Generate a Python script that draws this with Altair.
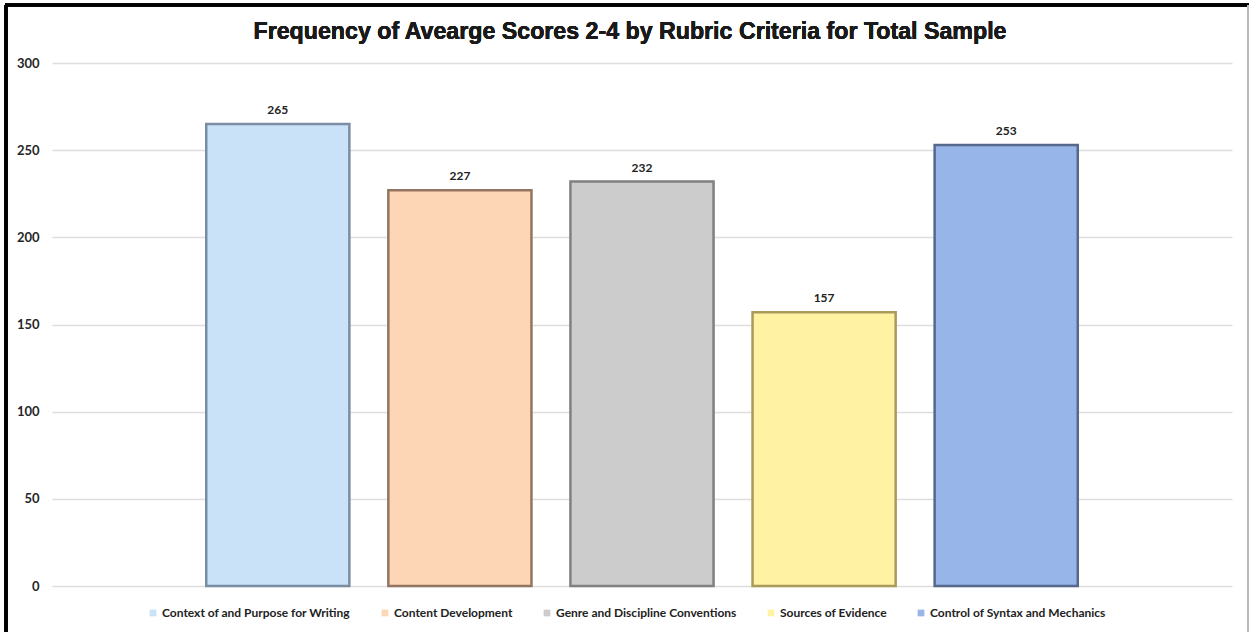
import altair as alt
import pandas as pd

categories = [
    "Context of and Purpose for Writing",
    "Content Development",
    "Genre and Discipline Conventions",
    "Sources of Evidence",
    "Control of Syntax and Mechanics",
]
values = [265, 227, 232, 157, 253]
fill_colors = ["#C9E2F8", "#FDD6B6", "#CCCCCC", "#FFF2A2", "#97B5E9"]
edge_colors = ["#7A8DA2", "#947562", "#808080", "#A89B5C", "#56698C"]
title_text = "Frequency of Avearge Scores 2-4 by Rubric Criteria for Total Sample"

df = pd.DataFrame({"category": categories, "value": values})

FONT = "Lato"

x_enc = alt.X("category:N", sort=categories, axis=None,
              scale=alt.Scale(paddingInner=0.214, paddingOuter=0.847))
y_enc = alt.Y("value:Q", scale=alt.Scale(domain=[0, 300], nice=False),
              axis=alt.Axis(values=[0, 50, 100, 150, 200, 250, 300], title=None,
                            domain=False, ticks=False, labelPadding=13,
                            labelFont=FONT, labelFontWeight="bold", labelFontSize=13,
                            labelColor="#262626", gridColor="#DDDDDD", gridWidth=1.5))

bars = alt.Chart(df).mark_bar(strokeWidth=2.5).encode(
    x=x_enc,
    y=y_enc,
    color=alt.Color("category:N", sort=categories,
                    scale=alt.Scale(domain=categories, range=fill_colors),
                    legend=alt.Legend(title=None, orient="none", legendX=95, legendY=544,
                                      direction="horizontal", columns=5, columnPadding=28,
                                      symbolType="square", symbolSize=45, symbolStrokeWidth=0,
                                      labelFont=FONT, labelFontWeight="bold", labelFontSize=12,
                                      labelLimit=400,
                                      labelColor="#222222", labelOffset=3)),
    stroke=alt.Stroke("category:N", sort=categories,
                      scale=alt.Scale(domain=categories, range=edge_colors), legend=None),
)

labels = alt.Chart(df).mark_text(dy=-14, font=FONT, fontWeight="bold", fontSize=12,
                                 color="#222222").encode(
    x=alt.X("category:N", sort=categories, axis=None),
    y=alt.Y("value:Q"),
    text=alt.Text("value:Q"),
)

title = alt.Chart(df).mark_text(font="Liberation Sans", fontSize=23.2, fontWeight="bold",
                                color="#1a1a1a", align="center", baseline="middle").encode(
    x=alt.value(578), y=alt.value(-31), text=alt.value(title_text))

top_line = alt.Chart(df).mark_rule(color="#000000", strokeWidth=3).encode(
    x=alt.value(-47), x2=alt.value(1197), y=alt.value(-58))
left_line = alt.Chart(df).mark_rule(color="#000000", strokeWidth=3).encode(
    x=alt.value(-46), y=alt.value(-58), y2=alt.value(569))
right_line = alt.Chart(df).mark_rule(color="#BBBBBB", strokeWidth=1.5).encode(
    x=alt.value(1196), y=alt.value(-58), y2=alt.value(569))

chart = alt.layer(bars, labels, title, top_line, left_line, right_line).properties(
    width=1180, height=523,
    background="white",
    autosize=alt.AutoSizeParams(type="none"),
    padding={"left": 52, "top": 63, "right": 17, "bottom": 46},
).configure_view(strokeWidth=0, stroke="transparent")

chart.save("out.html", embed_options={"renderer": "svg", "actions": False})
